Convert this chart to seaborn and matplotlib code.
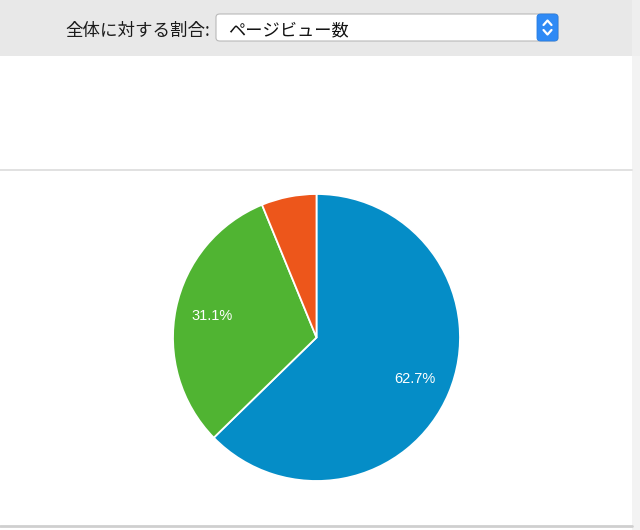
import matplotlib
matplotlib.use("Agg")
import matplotlib.pyplot as plt
import seaborn as sns
from matplotlib.patches import Rectangle, FancyBboxPatch
from matplotlib.lines import Line2D

# ---- data ----
labels = ["ページビュー (A)", "ページビュー (B)", "ページビュー (C)"]
shares = [62.7, 31.1, 6.2]
colors = ["#058dc7", "#50b432", "#ed561b"]
header_label = "全体に対する割合:"
dropdown_value = "ページビュー数"

sns.set_theme(style="white")
plt.rcParams["font.family"] = ["Noto Sans CJK JP", "DejaVu Sans"]

W, H = 640, 530
fig = plt.figure(figsize=(W / 100, H / 100), dpi=100)
fig.patch.set_facecolor("white")

def fx(px):
    return px / W

def fy(py):
    return 1 - py / H

# background: top gray bar
fig.patches.append(Rectangle((0, fy(56)), 1, 56 / H, transform=fig.transFigure,
                             facecolor="#e8e8e8", edgecolor="none", zorder=0))
# right strip
fig.patches.append(Rectangle((fx(632), 0), 8 / W, fy(56), transform=fig.transFigure,
                             facecolor="#f3f3f3", edgecolor="none", zorder=0))
fig.patches.append(Rectangle((fx(632), fy(56)), 8 / W, 56 / H, transform=fig.transFigure,
                             facecolor="#eeeeee", edgecolor="none", zorder=0))
# separator lines
fig.add_artist(Line2D([0, fx(632)], [fy(170), fy(170)], transform=fig.transFigure,
                      color="#dcdcdc", lw=1.2))
fig.add_artist(Line2D([0, fx(632)], [fy(525.5), fy(525.5)], transform=fig.transFigure,
                      color="#cfcfcf", lw=2))

# header text
fig.text(fx(65), fy(31), header_label, ha="left", va="center", fontsize=12.6, color="#1a1a1a")

# dropdown box
box = FancyBboxPatch((fx(216), fy(41)), (558 - 216) / W, 27 / H,
                     boxstyle="round,pad=0,rounding_size=0.006",
                     transform=fig.transFigure, facecolor="white",
                     edgecolor="#b9b9b9", lw=0.8, zorder=2)
fig.patches.append(box)
btn = FancyBboxPatch((fx(537), fy(41)), 21 / W, 27 / H,
                     boxstyle="round,pad=0,rounding_size=0.006",
                     transform=fig.transFigure, facecolor="#2f8af5",
                     edgecolor="#2a7ee0", lw=0.6, zorder=3)
fig.patches.append(btn)
cx = 547.5
fig.add_artist(Line2D([fx(cx - 4), fx(cx), fx(cx + 4)], [fy(25), fy(20.5), fy(25)],
                      transform=fig.transFigure, color="white", lw=1.6, zorder=4))
fig.add_artist(Line2D([fx(cx - 4), fx(cx), fx(cx + 4)], [fy(30), fy(34.5), fy(30)],
                      transform=fig.transFigure, color="white", lw=1.6, zorder=4))
fig.text(fx(228), fy(30), dropdown_value, ha="left", va="center", fontsize=12.4, color="#111111",
         zorder=5)

# pie
cxp, cyp, r = 316.5, 337.5, 143.5
ax = fig.add_axes([fx(cxp - r), fy(cyp + r), 2 * r / W, 2 * r / H])
pal = sns.color_palette(colors)

def fmt(p):
    return f"{p:.1f}%" if p >= 10 else ""

wedges, texts, autotexts = ax.pie(
    shares, colors=pal, startangle=90, counterclock=False,
    autopct=fmt, pctdistance=0.745,
    wedgeprops=dict(edgecolor="white", linewidth=1.3),
    textprops=dict(color="white", fontsize=10.5, family=["Liberation Sans", "DejaVu Sans"]),
)
ax.set_xlim(-1, 1)
ax.set_ylim(-1, 1)
ax.set_aspect("equal")
ax.axis("off")

fig.savefig("out.png", dpi=100, facecolor=fig.get_facecolor())
